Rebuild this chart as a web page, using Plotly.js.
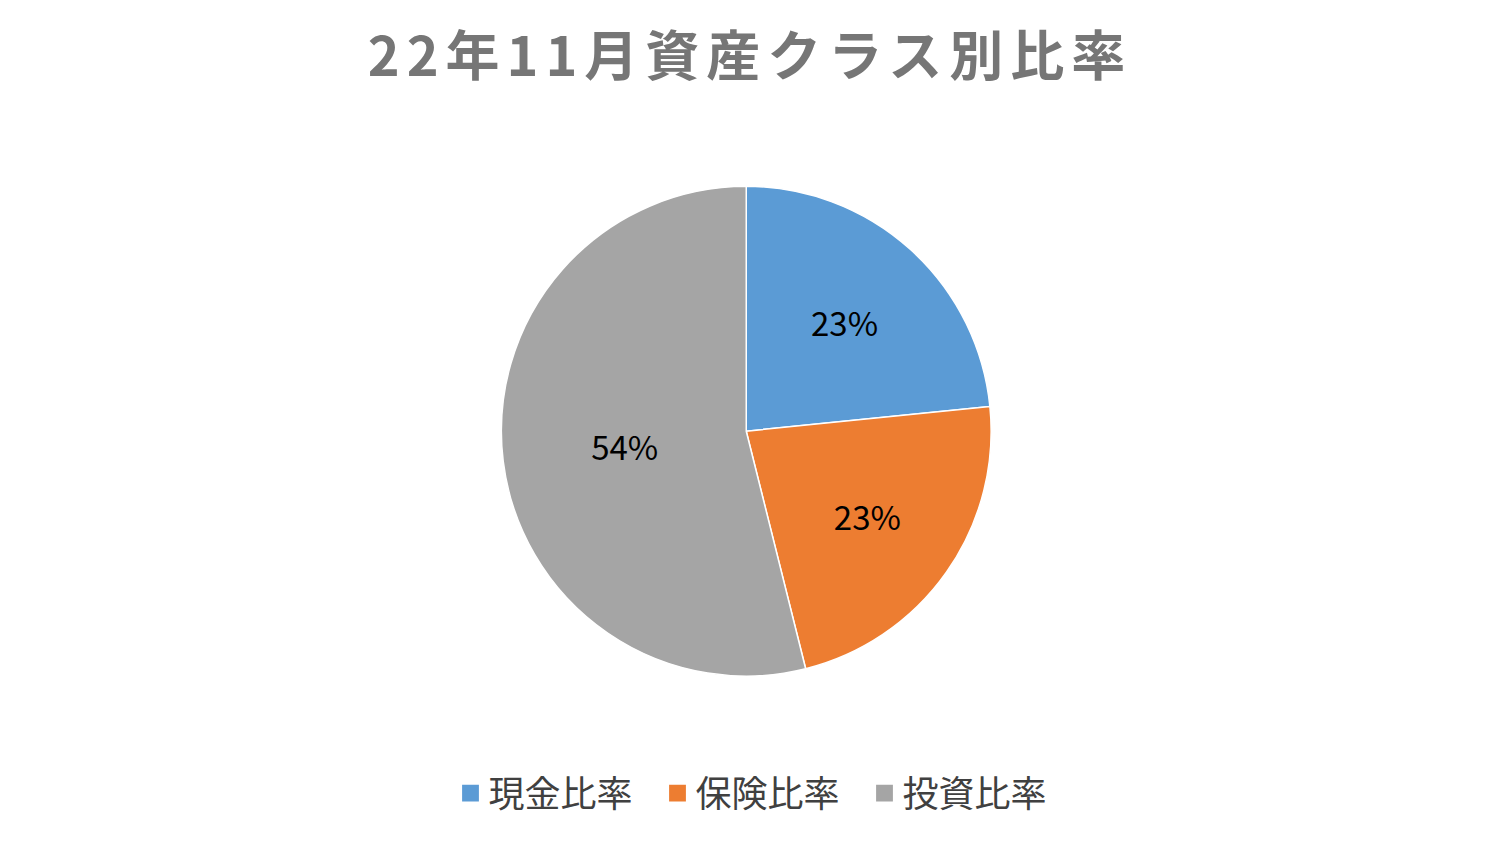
<!DOCTYPE html>
<html><head><meta charset="utf-8">
<script src="https://cdn.plot.ly/plotly-3.0.1.min.js"></script>
<style>html,body{margin:0;padding:0;background:#fff}#chart{width:1500px;height:843px}
.gtitle{letter-spacing:7px}
.legendpie{transform:translate(22px,0px) scale(1.6)}</style>
</head><body><div id="chart"></div>
<script>
const categories = ["現金比率", "保険比率", "投資比率"];
const shares = [23.4, 22.7, 53.9];
const colors = ["#5B9BD5", "#ED7D31", "#A5A5A5"];
const titleText = "22年11月資産クラス別比率";

const data = [{
  type: "pie",
  labels: categories,
  values: shares,
  sort: false,
  direction: "clockwise",
  rotation: 0,
  marker: {colors: colors, line: {color: "#ffffff", width: 1.5}},
  textinfo: "percent",
  textposition: "inside",
  insidetextorientation: "horizontal",
  texttemplate: "%{percent:.0%}",
  textfont: {family: "Noto Sans CJK JP, sans-serif", size: 33, color: "#000000"},
  domain: {x: [0.334, 0.661], y: [0.198, 0.779]},
  hoverinfo: "label+percent"
}];

const layout = {
  width: 1500, height: 843,
  margin: {l: 0, r: 0, t: 0, b: 0},
  paper_bgcolor: "#ffffff",
  title: {text: "<b>" + titleText + "</b>", x: 0.5, xanchor: "center", y: 0.932, yanchor: "middle",
    font: {family: "Noto Sans CJK JP, sans-serif", size: 54, color: "#767676"}},
  showlegend: true,
  legend: {orientation: "h", x: 0.506, xanchor: "center", y: 0.059, yanchor: "middle",
    font: {family: "Noto Sans CJK JP, sans-serif", size: 36, color: "#404040"},
    entrywidth: 162, entrywidthmode: "pixels",
    traceorder: "normal"}
};
Plotly.newPlot("chart", data, layout, {displayModeBar: false});
</script></body></html>
